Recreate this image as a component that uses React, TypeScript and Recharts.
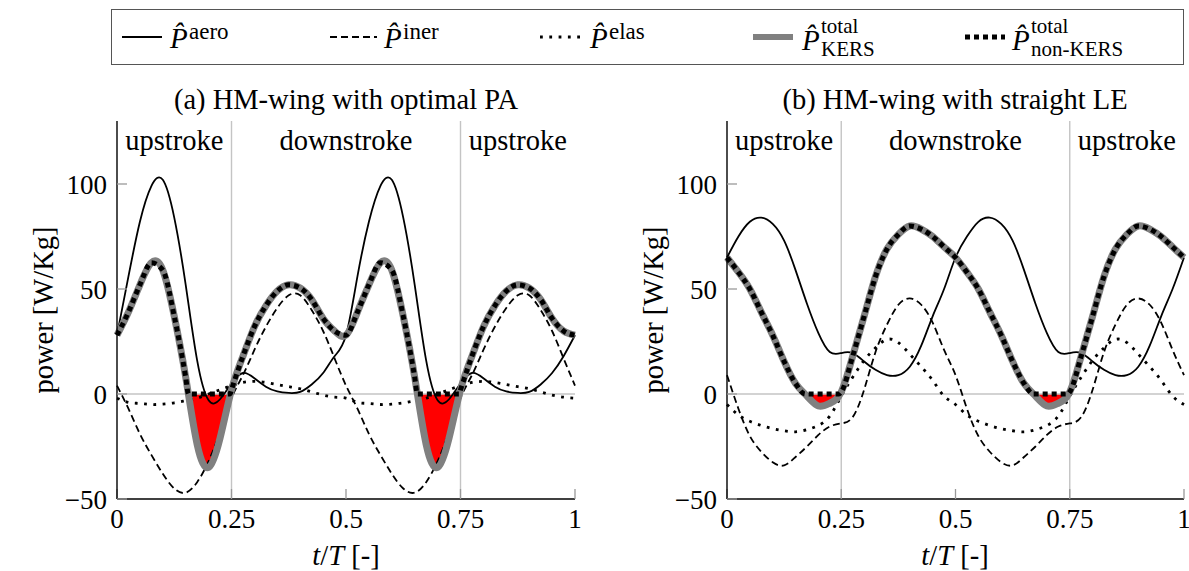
import React from "react";
import { ComposedChart, Line, Area, XAxis, YAxis, ReferenceLine, ReferenceArea } from "recharts";

// sample times t/T
const tGrid = [
  0, 0.025, 0.05, 0.075, 0.1, 0.125, 0.15, 0.175, 0.2, 0.225, 0.25, 0.275, 0.3, 0.325, 0.35, 0.375, 0.4, 0.425, 0.45, 0.475,
  0.5, 0.525, 0.55, 0.575, 0.6, 0.625, 0.65, 0.675, 0.7, 0.725, 0.75, 0.775, 0.8, 0.825, 0.85, 0.875, 0.9, 0.925, 0.95, 0.975, 1,
];

// (a) HM-wing with optimal PA
const aeroA = [
  28, 56, 82, 99, 102, 84, 52, 16, -3, -2.5, 5, 10, 7.5, 3.5, 1.2, 0.5, 1, 4.5, 10, 18,
  28, 56, 82, 99, 102, 84, 52, 16, -3, -2.5, 5, 10, 7.5, 3.5, 1.2, 0.5, 1, 4.5, 10, 18, 28,
];
const inerA = [
  4, -7, -19, -29, -38, -45, -47, -42, -32, -18, -2, 9, 21, 32, 41, 47, 47, 40, 30, 17,
  4, -7, -19, -29, -38, -45, -47, -42, -32, -18, -2, 9, 21, 32, 41, 47, 47, 40, 30, 17, 4,
];
const elasA = [
  -2, -4, -4.5, -5, -4.8, -4.2, -3.2, -2, 0, 2, 4, 5.5, 6, 5.5, 4.5, 3.5, 2.5, 1, -0.5, -1.5,
  -2, -4, -4.5, -5, -4.8, -4.2, -3.2, -2, 0, 2, 4, 5.5, 6, 5.5, 4.5, 3.5, 2.5, 1, -0.5, -1.5, -2,
];
const kersA = [
  28, 39, 52, 62.5, 59, 37, 8, -24, -35, -21, 2, 18, 32, 42, 49, 52, 50.5, 45, 36, 30,
  28, 39, 52, 62.5, 59, 37, 8, -24, -35, -21, 2, 18, 32, 42, 49, 52, 50.5, 45, 36, 30, 28,
];
const nonKersTA = [
  0, 0.025, 0.05, 0.075, 0.1, 0.125, 0.15, 0.156, 0.247, 0.25, 0.275, 0.3, 0.325, 0.35, 0.375, 0.4, 0.425, 0.45, 0.475,
  0.5, 0.525, 0.55, 0.575, 0.6, 0.625, 0.65, 0.656, 0.747, 0.75, 0.775, 0.8, 0.825, 0.85, 0.875, 0.9, 0.925, 0.95, 0.975, 1,
];
const nonKersA = [
  28, 39, 52, 62.5, 59, 37, 8, 0, 0, 2, 18, 32, 42, 49, 52, 50.5, 45, 36, 30,
  28, 39, 52, 62.5, 59, 37, 8, 0, 0, 2, 18, 32, 42, 49, 52, 50.5, 45, 36, 30, 28,
];

// (b) HM-wing with straight LE
const aeroB = [
  65, 75, 82, 84, 81, 73, 59, 43, 29, 20, 19.5, 19.5, 15.5, 11.5, 9, 9, 13, 23, 37, 50,
  65, 75, 82, 84, 81, 73, 59, 43, 29, 20, 19.5, 19.5, 15.5, 11.5, 9, 9, 13, 23, 37, 50, 65,
];
const inerB = [
  9, -7, -20, -27.5, -32.5, -34, -30, -25, -19.5, -15.5, -14, -11, 2, 20, 33, 42.5, 45.5, 42.5, 34, 21,
  9, -7, -20, -27.5, -32.5, -34, -30, -25, -19.5, -15.5, -14, -11, 2, 20, 33, 42.5, 45.5, 42.5, 34, 21, 9,
];
const elasB = [
  -5, -10, -13, -15, -16.5, -17.5, -18, -17, -15, -10.5, -1, 8, 16, 22, 26, 24.5, 19, 13, 6.5, -1,
  -5, -10, -13, -15, -16.5, -17.5, -18, -17, -15, -10.5, -1, 8, 16, 22, 26, 24.5, 19, 13, 6.5, -1, -5,
];
const kersB = [
  65, 58, 50, 39, 28, 15.5, 5, -1, -5.7, -4.4, 1, 18, 37, 56, 69, 76, 80, 78.5, 75, 70,
  65, 58, 50, 39, 28, 15.5, 5, -1, -5.7, -4.4, 1, 18, 37, 56, 69, 76, 80, 78.5, 75, 70, 65,
];
const nonKersTB = [
  0, 0.025, 0.05, 0.075, 0.1, 0.125, 0.15, 0.171, 0.245, 0.25, 0.275, 0.3, 0.325, 0.35, 0.375, 0.4, 0.425, 0.45, 0.475,
  0.5, 0.525, 0.55, 0.575, 0.6, 0.625, 0.65, 0.671, 0.745, 0.75, 0.775, 0.8, 0.825, 0.85, 0.875, 0.9, 0.925, 0.95, 0.975, 1,
];
const nonKersB = [
  65, 58, 50, 39, 28, 15.5, 5, 0, 0, 1, 18, 37, 56, 69, 76, 80, 78.5, 75, 70,
  65, 58, 50, 39, 28, 15.5, 5, 0, 0, 1, 18, 37, 56, 69, 76, 80, 78.5, 75, 70, 65,
];

const xTicks = [0, 0.25, 0.5, 0.75, 1];
const yTicks = [-50, 0, 50, 100];
const Y_MIN = -50;
const Y_MAX = 130;
const strokes = [
  { x1: 0, x2: 0.25, label: "upstroke" },
  { x1: 0.25, x2: 0.75, label: "downstroke" },
  { x1: 0.75, x2: 1, label: "upstroke" },
];

const FONT = '"Liberation Serif", "Times New Roman", serif';
const FS_TICK = 27;
const FS = 28.5;
const CH_H = 461;
const M_TOP = 11;
const XAX_H = 72;

const DASH_INER = "7 4";
const DASH_ELAS = "2.8 6.5";
const DASH_NONKERS = "5 4";

const rowsOf = (aero: number[], iner: number[], elas: number[], kers: number[]) =>
  tGrid.map((t, i) => ({ t, aero: aero[i], iner: iner[i], elas: elas[i], kers: kers[i] }));
const nkOf = (ts: number[], vs: number[]) => ts.map((t, i) => ({ t, v: vs[i] }));

const fmtX = (v: number) => String(v);
const fmtY = (v: number) => (v < 0 ? `\u2212${Math.abs(v)}` : String(v));

const axisLine = { stroke: "#000", strokeWidth: 1.4 };
const tickLine = { stroke: "#999", strokeWidth: 1.3 };
const tickText = { fill: "#000", fontSize: FS_TICK, fontFamily: FONT };

function Panel({ id, rows, nk, width, yAxisWidth, marginRight }: any) {
  const plotBottom = CH_H - XAX_H;
  const zeroOff = Y_MAX / (Y_MAX - Y_MIN);
  return (
    <ComposedChart
      width={width}
      height={CH_H}
      data={rows}
      margin={{ top: M_TOP, right: marginRight, bottom: 0, left: 0 }}
    >
      <defs>
        <linearGradient id={`neg-${id}`} gradientUnits="userSpaceOnUse" x1="0" x2="0" y1={M_TOP} y2={plotBottom}>
          <stop offset={zeroOff} stopColor="#ff0000" stopOpacity={0} />
          <stop offset={zeroOff} stopColor="#ff0000" stopOpacity={1} />
        </linearGradient>
      </defs>
      <XAxis
        dataKey="t"
        type="number"
        domain={[0, 1]}
        ticks={xTicks}
        interval={0}
        tickFormatter={fmtX}
        height={XAX_H}
        tickSize={-10}
        tickMargin={20}
        axisLine={axisLine}
        tickLine={tickLine}
        tick={tickText}
      />
      <XAxis
        xAxisId="top"
        orientation="top"
        dataKey="t"
        type="number"
        domain={[0, 1]}
        ticks={xTicks}
        interval={0}
        height={0}
        tickSize={-10}
        axisLine={axisLine}
        tickLine={tickLine}
        tick={false}
      />
      <YAxis
        type="number"
        domain={[Y_MIN, Y_MAX]}
        ticks={yTicks}
        interval={0}
        tickFormatter={fmtY}
        width={yAxisWidth}
        tickSize={-10}
        tickMargin={20}
        axisLine={axisLine}
        tickLine={tickLine}
        tick={tickText}
      />
      <YAxis
        yAxisId="r"
        orientation="right"
        type="number"
        domain={[Y_MIN, Y_MAX]}
        ticks={yTicks}
        interval={0}
        width={0}
        tickSize={-10}
        axisLine={axisLine}
        tickLine={tickLine}
        tick={false}
      />
      <ReferenceLine x={0.25} stroke="#c4c4c4" strokeWidth={1.4} />
      <ReferenceLine x={0.75} stroke="#c4c4c4" strokeWidth={1.4} />
      <ReferenceLine y={0} stroke="#c4c4c4" strokeWidth={1.4} />
      {strokes.map((s, i) => (
        <ReferenceArea
          key={i}
          x1={s.x1}
          x2={s.x2}
          fillOpacity={0}
          strokeOpacity={0}
          label={{ value: s.label, position: "insideTop", offset: 9, fill: "#000", fontSize: FS, fontFamily: FONT }}
        />
      ))}
      <Area
        dataKey="kers"
        type="natural"
        baseValue={0}
        stroke="none"
        fill={`url(#neg-${id})`}
        fillOpacity={1}
        dot={false}
        activeDot={false}
        isAnimationActive={false}
      />
      <Line dataKey="aero" type="natural" stroke="#000" strokeWidth={1.8} dot={false} activeDot={false} isAnimationActive={false} />
      <Line dataKey="iner" type="natural" stroke="#000" strokeWidth={1.8} strokeDasharray={DASH_INER} dot={false} activeDot={false} isAnimationActive={false} />
      <Line dataKey="elas" type="natural" stroke="#000" strokeWidth={2.8} strokeDasharray={DASH_ELAS} dot={false} activeDot={false} isAnimationActive={false} />
      <Line dataKey="kers" type="natural" stroke="#808080" strokeWidth={7} dot={false} activeDot={false} isAnimationActive={false} />
      <Line data={nk} dataKey="v" type="monotone" stroke="#000" strokeWidth={5} strokeDasharray={DASH_NONKERS} dot={false} activeDot={false} isAnimationActive={false} />
    </ComposedChart>
  );
}

const legendItems = [
  { x1: 122, x2: 162, pLeft: 170, stroke: "#000", width: 1.8, dash: undefined, sup: "aero", sub: undefined },
  { x1: 330, x2: 377, pLeft: 384, stroke: "#000", width: 1.8, dash: DASH_INER, sup: "iner", sub: undefined },
  { x1: 540, x2: 583, pLeft: 590, stroke: "#000", width: 2.8, dash: DASH_ELAS, sup: "elas", sub: undefined },
  { x1: 753, x2: 793, pLeft: 802, stroke: "#808080", width: 6, dash: undefined, sup: "total", sub: "KERS" },
  { x1: 965, x2: 1005, pLeft: 1012, stroke: "#000", width: 5, dash: DASH_NONKERS, sup: "total", sub: "non-KERS" },
];

// absolute text placed by its baseline (page px); tight line box so stacked scripts do not collide
function BaseText({ left, baseline, size, italic, children }: any) {
  const lh = Math.round(size * 0.72);
  return (
    <div
      style={{
        position: "absolute",
        left,
        top: baseline - (lh / 2 + 0.3375 * size),
        fontFamily: FONT,
        fontSize: size,
        lineHeight: `${lh}px`,
        fontStyle: italic ? "italic" : "normal",
        whiteSpace: "nowrap",
        color: "#000",
      }}
    >
      {children}
    </div>
  );
}

function Legend() {
  return (
    <>
      <div
        style={{
          position: "absolute",
          left: 111,
          top: 9,
          width: 1073,
          height: 56,
          border: "1.5px solid #555",
          boxSizing: "border-box",
        }}
      />
      {legendItems.map((it, i) => (
        <React.Fragment key={i}>
          <svg style={{ position: "absolute", left: it.x1, top: 29 }} width={it.x2 - it.x1} height={16}>
            <line x1={0} x2={it.x2 - it.x1} y1={8} y2={8} stroke={it.stroke} strokeWidth={it.width} strokeDasharray={it.dash} />
          </svg>
          <BaseText left={it.pLeft} baseline={it.sub ? 50 : 48} size={29} italic>
            {"P\u0302"}
          </BaseText>
          <BaseText left={it.pLeft + 19} baseline={it.sub ? 33.5 : 39} size={it.sub ? 21 : 23}>
            {it.sup}
          </BaseText>
          {it.sub ? (
            <BaseText left={it.pLeft + 19} baseline={57} size={21}>
              {it.sub}
            </BaseText>
          ) : null}
        </React.Fragment>
      ))}
    </>
  );
}

const textBase: React.CSSProperties = { position: "absolute", fontFamily: FONT, fontSize: FS, color: "#000", whiteSpace: "nowrap" };

export default function App() {
  const rowsA = rowsOf(aeroA, inerA, elasA, kersA);
  const rowsB = rowsOf(aeroB, inerB, elasB, kersB);
  return (
    <div style={{ position: "absolute", left: 0, top: 0, width: 1189, height: 571, background: "#fff", overflow: "hidden" }}>
      <Legend />
      <div style={{ ...textBase, left: 346, top: 100, transform: "translate(-50%, -50%)" }}>(a) HM-wing with optimal PA</div>
      <div style={{ ...textBase, left: 955, top: 100, transform: "translate(-50%, -50%)" }}>(b) HM-wing with straight LE</div>

      <div style={{ position: "absolute", left: 0, top: 110 }}>
        <Panel id="a" rows={rowsA} nk={nkOf(nonKersTA, nonKersA)} width={600} yAxisWidth={117} marginRight={25} />
      </div>
      <div style={{ position: "absolute", left: 600, top: 110 }}>
        <Panel id="b" rows={rowsB} nk={nkOf(nonKersTB, nonKersB)} width={589} yAxisWidth={127} marginRight={5} />
      </div>

      <div style={{ ...textBase, left: 44, top: 310, transform: "translate(-50%, -50%) rotate(-90deg)" }}>power [W/Kg]</div>
      <div style={{ ...textBase, left: 654, top: 310, transform: "translate(-50%, -50%) rotate(-90deg)" }}>power [W/Kg]</div>
      <div style={{ ...textBase, left: 346, top: 556, transform: "translate(-50%, -50%)" }}>
        <i>t</i>/<i>T</i> [-]
      </div>
      <div style={{ ...textBase, left: 955, top: 556, transform: "translate(-50%, -50%)" }}>
        <i>t</i>/<i>T</i> [-]
      </div>
    </div>
  );
}
